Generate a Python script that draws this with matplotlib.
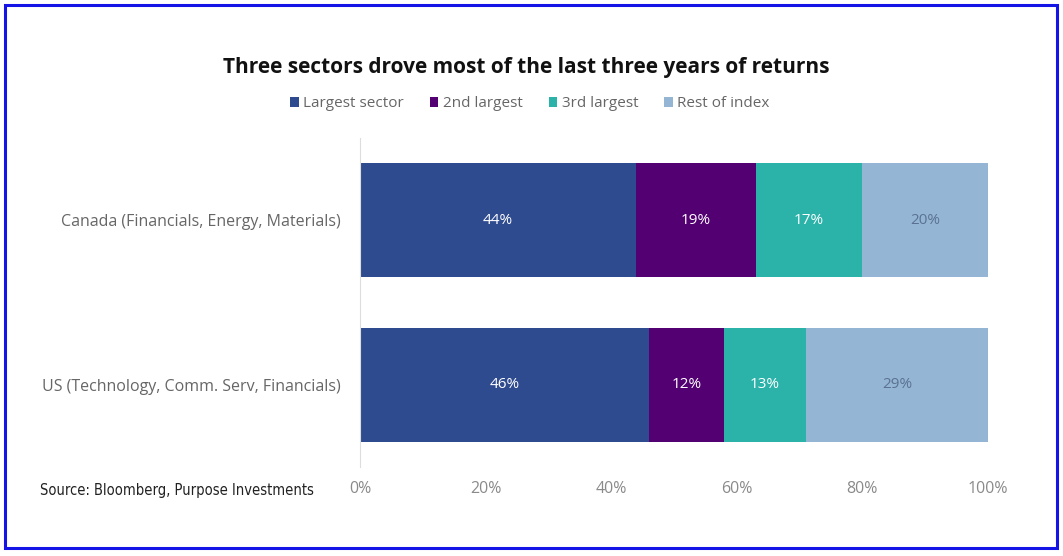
import matplotlib
matplotlib.use("Agg")
import matplotlib.pyplot as plt
from matplotlib.patches import Patch, Rectangle

categories = ["Canada (Financials, Energy, Materials)",
              "US (Technology, Comm. Serv, Financials)"]
series = ["Largest sector", "2nd largest", "3rd largest", "Rest of index"]
largest = [44, 46]
second = [19, 12]
third = [17, 13]
rest = [20, 29]
xticks = [0, 20, 40, 60, 80, 100]

COLORS = ["#2f4b8f", "#520072", "#2bb3a9", "#94b6d4"]
TXT = ["white", "white", "white", "#5b7192"]

plt.rcParams["font.family"] = ["Open Sans", "DejaVu Sans"]
fig = plt.figure(figsize=(10.63, 5.56), dpi=100)
ax = fig.add_axes([360 / 1063, 89 / 556, 628 / 1063, 329 / 556])

ypos = list(range(len(categories)))
left = [0] * len(categories)
for vals, col, tc, name in zip([largest, second, third, rest], COLORS, TXT, series):
    bars = ax.barh(ypos, vals, left=left, height=0.69, color=col, label=name)
    for b, v in zip(bars, vals):
        ax.text(b.get_x() + b.get_width() / 2, b.get_y() + b.get_height() / 2,
                f"{v}%", ha="center", va="center", color=tc, fontsize=11)
    left = [l + v for l, v in zip(left, vals)]

ax.set_xlim(0, 100)
ax.set_ylim(1.5, -0.5)
ax.set_yticks(ypos)
ax.set_yticklabels(categories, fontsize=11.5, color="#666666")
ax.set_xticks(xticks)
ax.set_xticklabels([f"{t}%" for t in xticks], fontsize=11.5, color="#8a8a8a")
ax.tick_params(length=0)
ax.tick_params(axis="y", pad=14)
ax.tick_params(axis="x", pad=10)
for s in ("top", "right", "bottom"):
    ax.spines[s].set_visible(False)
ax.spines["left"].set_color("#dddddd")

fig.text(526 / 1063, 1 - 67 / 556, "Three sectors drove most of the last three years of returns",
         ha="center", va="center", fontsize=15, fontweight="bold", color="#111111")

handles = [Patch(facecolor=c, edgecolor="none") for c in COLORS]
fig.legend(handles, series, loc="center", bbox_to_anchor=(530 / 1063, 1 - 104 / 556),
           ncol=4, frameon=False, fontsize=11, handlelength=0.55, handleheight=0.55,
           handletextpad=0.3, columnspacing=1.7, labelcolor="#666666")

fig.text(40 / 1063, 1 - 491 / 556, "Source: Bloomberg, Purpose Investments",
         ha="left", va="center", fontsize=10.5, color="#222222",
         family="DejaVu Sans", fontstretch="condensed")

fig.patches.append(Rectangle((5 / 1063, 1 - 548 / 556), 1052 / 1063, 543 / 556,
                             transform=fig.transFigure, fill=False,
                             edgecolor="#1414e6", linewidth=2.2))

fig.savefig("out.png", dpi=100, facecolor="white")
